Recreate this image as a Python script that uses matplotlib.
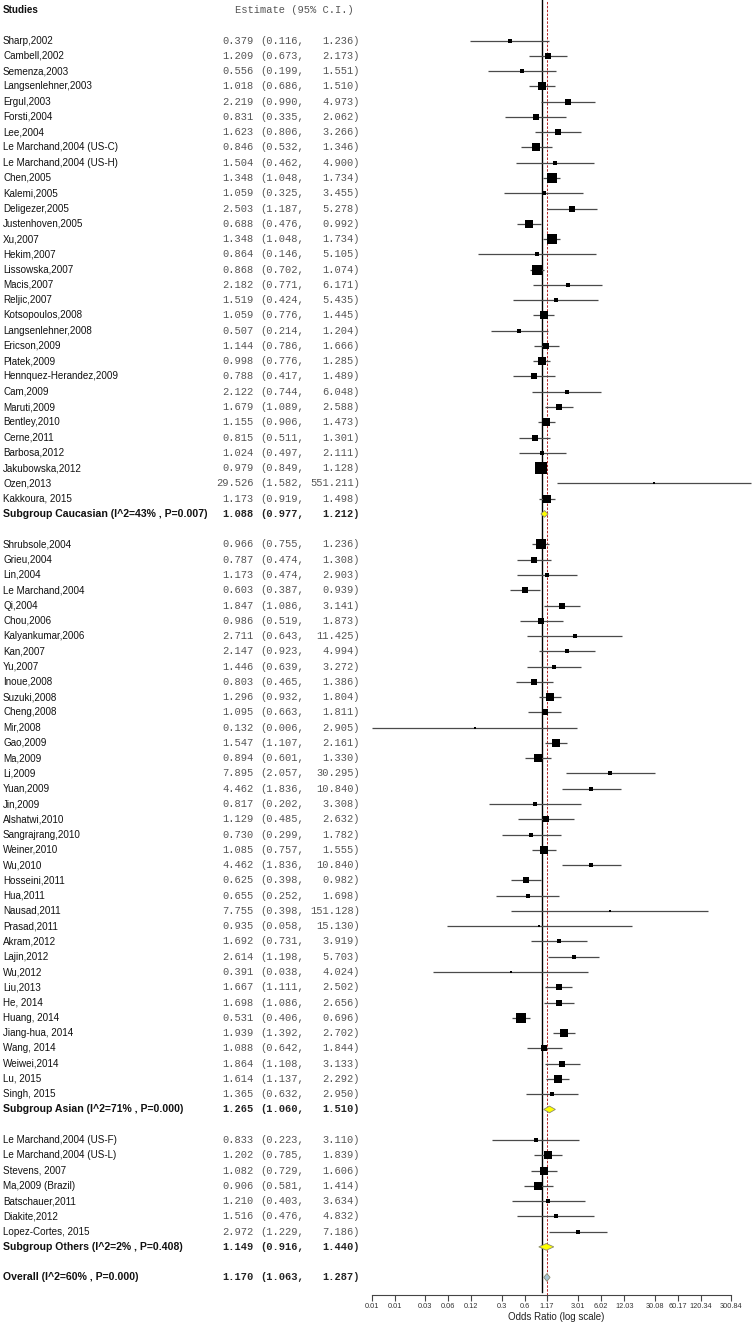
import matplotlib
matplotlib.use("Agg")
import matplotlib.pyplot as plt
import matplotlib.transforms as mtransforms
from matplotlib.patches import Polygon
import numpy as np

# ---------------- data ----------------
cauc_names = ["Sharp,2002", "Cambell,2002", "Semenza,2003", "Langsenlehner,2003", "Ergul,2003",
              "Forsti,2004", "Lee,2004", "Le Marchand,2004 (US-C)", "Le Marchand,2004 (US-H)",
              "Chen,2005", "Kalemi,2005", "Deligezer,2005", "Justenhoven,2005", "Xu,2007",
              "Hekim,2007", "Lissowska,2007", "Macis,2007", "Reljic,2007", "Kotsopoulos,2008",
              "Langsenlehner,2008", "Ericson,2009", "Platek,2009", "Hennquez-Herandez,2009",
              "Cam,2009", "Maruti,2009", "Bentley,2010", "Cerne,2011", "Barbosa,2012",
              "Jakubowska,2012", "Ozen,2013", "Kakkoura, 2015"]
cauc_or = [0.379, 1.209, 0.556, 1.018, 2.219, 0.831, 1.623, 0.846, 1.504, 1.348, 1.059, 2.503,
           0.688, 1.348, 0.864, 0.868, 2.182, 1.519, 1.059, 0.507, 1.144, 0.998, 0.788, 2.122,
           1.679, 1.155, 0.815, 1.024, 0.979, 29.526, 1.173]
cauc_lo = [0.116, 0.673, 0.199, 0.686, 0.990, 0.335, 0.806, 0.532, 0.462, 1.048, 0.325, 1.187,
           0.476, 1.048, 0.146, 0.702, 0.771, 0.424, 0.776, 0.214, 0.786, 0.776, 0.417, 0.744,
           1.089, 0.906, 0.511, 0.497, 0.849, 1.582, 0.919]
cauc_hi = [1.236, 2.173, 1.551, 1.510, 4.973, 2.062, 3.266, 1.346, 4.900, 1.734, 3.455, 5.278,
           0.992, 1.734, 5.105, 1.074, 6.171, 5.435, 1.445, 1.204, 1.666, 1.285, 1.489, 6.048,
           2.588, 1.473, 1.301, 2.111, 1.128, 551.211, 1.498]
cauc_weight = [0.61, 1.51, 0.80, 2.11, 1.01, 1.01, 1.10, 1.98, 0.80, 3.20, 0.54, 1.10, 1.98, 3.20,
               0.45, 3.78, 0.68, 0.68, 2.66, 0.92, 1.80, 2.66, 1.10, 0.54, 1.80, 2.96, 1.40, 0.80,
               5.00, 0.20, 2.96]

asian_names = ["Shrubsole,2004", "Grieu,2004", "Lin,2004", "Le Marchand,2004", "Qi,2004",
               "Chou,2006", "Kalyankumar,2006", "Kan,2007", "Yu,2007", "Inoue,2008",
               "Suzuki,2008", "Cheng,2008", "Mir,2008", "Gao,2009", "Ma,2009", "Li,2009",
               "Yuan,2009", "Jin,2009", "Alshatwi,2010", "Sangrajrang,2010", "Weiner,2010",
               "Wu,2010", "Hosseini,2011", "Hua,2011", "Nausad,2011", "Prasad,2011",
               "Akram,2012", "Lajin,2012", "Wu,2012", "Liu,2013", "He, 2014", "Huang, 2014",
               "Jiang-hua, 2014", "Wang, 2014", "Weiwei,2014", "Lu, 2015", "Singh, 2015"]
asian_or = [0.966, 0.787, 1.173, 0.603, 1.847, 0.986, 2.711, 2.147, 1.446, 0.803, 1.296, 1.095,
            0.132, 1.547, 0.894, 7.895, 4.462, 0.817, 1.129, 0.730, 1.085, 4.462, 0.625, 0.655,
            7.755, 0.935, 1.692, 2.614, 0.391, 1.667, 1.698, 0.531, 1.939, 1.088, 1.864, 1.614,
            1.365]
asian_lo = [0.755, 0.474, 0.474, 0.387, 1.086, 0.519, 0.643, 0.923, 0.639, 0.465, 0.932, 0.663,
            0.006, 1.107, 0.601, 2.057, 1.836, 0.202, 0.485, 0.299, 0.757, 1.836, 0.398, 0.252,
            0.398, 0.058, 0.731, 1.198, 0.038, 1.111, 1.086, 0.406, 1.392, 0.642, 1.108, 1.137,
            0.632]
asian_hi = [1.236, 1.308, 2.903, 0.939, 3.141, 1.873, 11.425, 4.994, 3.272, 1.386, 1.804, 1.811,
            2.905, 2.161, 1.330, 30.295, 10.840, 3.308, 2.632, 1.782, 1.555, 10.840, 0.982, 1.698,
            151.128, 15.130, 3.919, 5.703, 4.024, 2.502, 2.656, 0.696, 2.702, 1.844, 3.133, 2.292,
            2.950]
asian_weight = [3.20, 1.40, 0.80, 1.80, 1.62, 1.10, 0.54, 0.80, 0.92, 1.40, 2.66, 1.80, 0.26,
                2.66, 2.24, 0.54, 0.92, 0.54, 1.10, 0.80, 2.24, 0.92, 1.80, 0.80, 0.20, 0.20,
                0.92, 0.92, 0.20, 1.80, 1.80, 3.20, 2.24, 1.40, 1.40, 2.24, 0.92]

other_names = ["Le Marchand,2004 (US-F)", "Le Marchand,2004 (US-L)", "Stevens, 2007",
               "Ma,2009 (Brazil)", "Batschauer,2011", "Diakite,2012", "Lopez-Cortes, 2015"]
other_or = [0.833, 1.202, 1.082, 0.906, 1.210, 1.516, 2.972]
other_lo = [0.223, 0.785, 0.729, 0.581, 0.403, 0.476, 1.229]
other_hi = [3.110, 1.839, 1.606, 1.414, 3.634, 4.832, 7.186]
other_weight = [0.68, 2.24, 2.24, 2.24, 0.68, 0.68, 0.80]

subgroup_labels = ["Subgroup Caucasian (I^2=43% , P=0.007)",
                   "Subgroup Asian (I^2=71% , P=0.000)",
                   "Subgroup Others (I^2=2% , P=0.408)"]
subgroup_or = [1.088, 1.265, 1.149]
subgroup_lo = [0.977, 1.060, 0.916]
subgroup_hi = [1.212, 1.510, 1.440]

overall_label = "Overall (I^2=60% , P=0.000)"
overall_or = 1.170
overall_lo = 1.063
overall_hi = 1.287

tick_values = [0.006, 0.012, 0.030, 0.060, 0.120, 0.301, 0.602, 1.17, 3.01, 6.02, 12.03,
               30.08, 60.17, 120.34, 300.84]
tick_labels = ["0.01", "0.01", "0.03", "0.06", "0.12", "0.3", "0.6", "1.17", "3.01", "6.02",
               "12.03", "30.08", "60.17", "120.34", "300.84"]

# ---------------- layout ----------------
W, H = 753, 1325
fig = plt.figure(figsize=(W / 100, H / 100), dpi=100)
row_px = 15.27
top_px = 10.0
ax_bottom_px = 1295.0
ax_left_px = 360.0

ax = fig.add_axes([ax_left_px / W, 1 - ax_bottom_px / H, 1 - ax_left_px / W, ax_bottom_px / H])
ax.set_xscale("log")
px_per_dec = 76.38
one_px = 541.7
ax.set_xlim(10 ** ((ax_left_px - one_px) / px_per_dec), 10 ** ((W - one_px) / px_per_dec))
ax.set_ylim((ax_bottom_px - top_px) / row_px, -top_px / row_px)

trans = mtransforms.blended_transform_factory(fig.transFigure, ax.transData)

sans = ["Liberation Sans", "DejaVu Sans"]
mono = ["Liberation Mono", "DejaVu Sans Mono"]
fs_sans = 7.1
fs_bold_label = 7.6
fs_mono = 7.5
est_color = "#555555"
char_px = fs_mono / 72 * 100 * 0.6
right_px = 360.0


def fx(px):
    return px / W


def write_row(y, name, est, lo, hi, bold=False):
    fw = "bold" if bold else "normal"
    ecol = "#222222" if bold else est_color
    ax.text(fx(3), y, name, transform=trans, family=sans,
            fontsize=fs_bold_label if bold else fs_sans, fontweight=fw,
            va="center", ha="left", color="#111111", clip_on=False)
    kw = dict(transform=trans, family=mono, fontsize=fs_mono, fontweight=fw, va="center",
              color=ecol, clip_on=False)
    ax.text(fx(right_px - 17 * char_px), y, f"{est:.3f}", ha="right", **kw)
    ax.text(fx(right_px - 16 * char_px), y, f"({lo:.3f},", ha="left", **kw)
    ax.text(fx(right_px), y, f"{hi:.3f})", ha="right", **kw)


def draw_study(y, est, lo, hi, w):
    ax.plot([lo, hi], [y, y], color="#4a4a4a", lw=0.9, solid_capstyle="butt", zorder=3)
    side_px = 1.15 * np.sqrt(20 * w)
    ax.plot([est], [y], marker="s", ms=side_px * 0.72, color="black", mec="black", mew=0,
            zorder=4)


def draw_diamond(y, est, lo, hi, face, half):
    poly = Polygon([[lo, y], [est, y - half], [hi, y], [est, y + half]], closed=True,
                   facecolor=face, edgecolor="#8a8a70", lw=0.6, zorder=5)
    ax.add_patch(poly)


# header
ax.text(fx(3), 0, "Studies", transform=trans, family=sans, fontsize=fs_sans, fontweight="bold",
        va="center", ha="left", color="#111111", clip_on=False)
ax.text(fx(235), 0, "Estimate (95% C.I.)", transform=trans, family=mono, fontsize=fs_mono,
        va="center", ha="left", color=est_color, clip_on=False)

groups = [
    (cauc_names, cauc_or, cauc_lo, cauc_hi, cauc_weight),
    (asian_names, asian_or, asian_lo, asian_hi, asian_weight),
    (other_names, other_or, other_lo, other_hi, other_weight),
]

row = 2
for gi, (names, ors, los, his, ws) in enumerate(groups):
    for n, e, l, h, w in zip(names, ors, los, his, ws):
        write_row(row, n, e, l, h)
        draw_study(row, e, l, h, w)
        row += 1
    write_row(row, subgroup_labels[gi], subgroup_or[gi], subgroup_lo[gi], subgroup_hi[gi],
              bold=True)
    draw_diamond(row, subgroup_or[gi], subgroup_lo[gi], subgroup_hi[gi], "#ffff00", 0.22)
    row += 2

write_row(row, overall_label, overall_or, overall_lo, overall_hi, bold=True)
draw_diamond(row, overall_or, overall_lo, overall_hi, "#a9c6d6", 0.25)

# reference lines
ax.axvline(1.0, ymin=0.002, ymax=1.0, color="black", lw=1.0, zorder=2)
ax.axvline(overall_or, ymin=0.0, ymax=1.0, color="#b22222", lw=0.7, ls=(0, (2.5, 1.5)), zorder=2)

# axis
for s in ["top", "right", "left"]:
    ax.spines[s].set_visible(False)
ax.spines["bottom"].set_bounds(tick_values[0], tick_values[-1])
ax.spines["bottom"].set_color("#444444")
ax.spines["bottom"].set_linewidth(0.8)
ax.set_yticks([])
ax.set_xticks(tick_values)
ax.set_xticklabels(tick_labels)
ax.xaxis.set_minor_locator(matplotlib.ticker.NullLocator())
ax.tick_params(axis="x", direction="out", length=4, width=0.8, color="#444444",
               labelsize=5.3, labelcolor="#333333", pad=2)
for t in ax.get_xticklabels():
    t.set_family(sans)
ax.set_xlabel("Odds Ratio (log scale)", family=sans, fontsize=7, color="#222222", labelpad=1)

fig.savefig("out.png", dpi=100, facecolor="white")
